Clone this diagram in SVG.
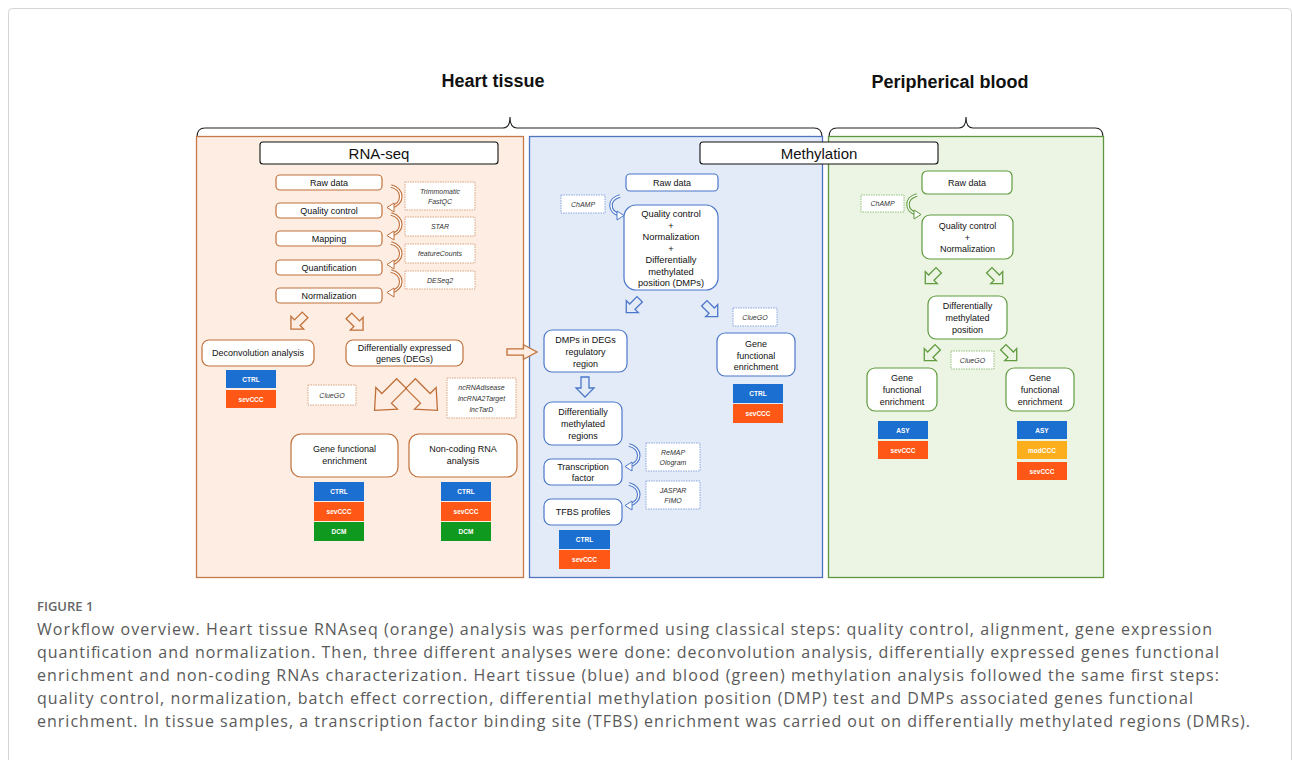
<svg xmlns="http://www.w3.org/2000/svg" width="1293" height="760" viewBox="0 0 1293 760">
<style>
.t{font-family:"Liberation Sans",Arial,sans-serif;font-size:9px;fill:#111;text-anchor:middle}
.tb{font-family:"Liberation Sans",Arial,sans-serif;font-size:9.3px;fill:#111;text-anchor:middle}
.ti{font-family:"Liberation Sans",Arial,sans-serif;font-size:7px;font-style:italic;fill:#333;text-anchor:middle}
.lab{font-family:"Liberation Sans",Arial,sans-serif;font-size:6.5px;font-weight:bold;fill:#fff;text-anchor:middle}
.hd{font-family:"Liberation Sans",Arial,sans-serif;font-size:18px;font-weight:bold;fill:#111;text-anchor:middle}
.bx{font-family:"Liberation Sans",Arial,sans-serif;font-size:15px;fill:#111;text-anchor:middle}
.cap{font-family:"Open Sans","Liberation Sans",sans-serif;font-size:16px;fill:#5a5a5a}
.on{fill:#fff;stroke:#c0703a;stroke-width:1.2}
.bn{fill:#fff;stroke:#4b77c9;stroke-width:1.2}
.gn{fill:#fff;stroke:#5f9b3f;stroke-width:1.2}
.ot{fill:#fff;stroke:#d9a482;stroke-width:1;stroke-dasharray:1.5 1}
.bt{fill:#fff;stroke:#8aa6dc;stroke-width:1;stroke-dasharray:1.5 1}
.gt{fill:#fff;stroke:#93c07c;stroke-width:1;stroke-dasharray:1.5 1}
.ctrl{fill:#1b6fd1}.sev{fill:#ff5716}.dcm{fill:#0f9a1f}.mod{fill:#fdae1c}
.brace{fill:none;stroke:#222;stroke-width:1.1}
.oc{fill:none;stroke:#c0703a;stroke-width:3.6}
.bc{fill:none;stroke:#4b77c9;stroke-width:3.6}
.gc{fill:none;stroke:#5f9b3f;stroke-width:3.6}
.ci{fill:none;stroke:#fff;stroke-width:1.4}
</style>
<defs>
<polygon id="ba" points="-4,-10 4,-10 4,1 9,1 0,10 -9,1 -4,1" vector-effect="non-scaling-stroke"/>
</defs>
<rect x="8.5" y="8.5" width="1283" height="800" rx="4" fill="#fff" stroke="#d4d4d4"/>

<text x="493" y="87" class="hd">Heart tissue</text>
<text x="950" y="88" class="hd">Peripherical blood</text>
<path class="brace" d="M197,137 Q197,128 205,128 L503,128 Q510,128 510,117 Q510,128 517,128 L814,128 Q822,128 822,137"/>
<path class="brace" d="M829,137 Q829,128 837,128 L959,128 Q966,128 966,117 Q966,128 973,128 L1095,128 Q1103,128 1103,137"/>

<rect x="196.5" y="136.5" width="327" height="441" fill="#fdede2" stroke="#c47a4a" stroke-width="1.3"/>
<rect x="529.5" y="136.5" width="293" height="441" fill="#e3ebf8" stroke="#4f75bf" stroke-width="1.3"/>
<rect x="828.5" y="136.5" width="275" height="441" fill="#ecf5e3" stroke="#5f9640" stroke-width="1.3"/>

<g id="rnaseq-title"><rect x="260" y="142" width="238" height="22" rx="3" fill="#fff" stroke="#111" stroke-width="1.1"/><text x="379" y="158.5" class="bx">RNA-seq</text></g>
<g id="methylation-title"><rect x="700" y="142" width="238" height="22" rx="3" fill="#fff" stroke="#111" stroke-width="1.1"/><text x="819" y="158.5" class="bx">Methylation</text></g>

<g id="connectors">
<path class="oc" d="M391,186 C404,189 404,204 391,207"/><path class="ci" d="M391,186 C404,189 404,204 391,207"/><polygon points="387,207.5 394,203 394,212" fill="#fff" stroke="#c0703a"/>
<path class="oc" d="M391,214 C404,217 404,232 391,235"/><path class="ci" d="M391,214 C404,217 404,232 391,235"/><polygon points="387,235.5 394,231 394,240" fill="#fff" stroke="#c0703a"/>
<path class="oc" d="M391,243 C404,246 404,261 391,264"/><path class="ci" d="M391,243 C404,246 404,261 391,264"/><polygon points="387,264.5 394,260 394,269" fill="#fff" stroke="#c0703a"/>
<path class="oc" d="M391,271 C404,274 404,289 391,292"/><path class="ci" d="M391,271 C404,274 404,289 391,292"/><polygon points="387,292.5 394,288 394,297" fill="#fff" stroke="#c0703a"/>

<use href="#ba" transform="translate(298,322) rotate(45)" fill="none" stroke="#c0703a" stroke-width="1.3"/>
<use href="#ba" transform="translate(356,323) rotate(-45)" fill="none" stroke="#c0703a" stroke-width="1.3"/>
<use href="#ba" transform="translate(388,397) rotate(45) scale(1.7,1.9)" fill="none" stroke="#c0703a" stroke-width="1.3"/>
<use href="#ba" transform="translate(424,397) rotate(-45) scale(1.7,1.9)" fill="none" stroke="#c0703a" stroke-width="1.3"/>
<use href="#ba" transform="translate(522,352) rotate(-90) scale(0.8,1.5)" fill="#fdede2" stroke="#c0703a" stroke-width="1.3"/>

<path class="bc" d="M620,196 C608,199 608,212 620,215"/><path class="ci" d="M620,196 C608,199 608,212 620,215"/><polygon points="624,215.5 617,211 617,220" fill="#fff" stroke="#4b77c9"/>
<use href="#ba" transform="translate(633,306) rotate(45) scale(0.95)" fill="none" stroke="#4b77c9" stroke-width="1.3"/>
<use href="#ba" transform="translate(711,310) rotate(-45) scale(0.95)" fill="none" stroke="#4b77c9" stroke-width="1.3"/>
<use href="#ba" transform="translate(585,387)" fill="none" stroke="#4b77c9" stroke-width="1.3"/>
<path class="bc" d="M629,445 C642,448 642,463 629,466"/><path class="ci" d="M629,445 C642,448 642,463 629,466"/><polygon points="625,466.5 632,462 632,471" fill="#fff" stroke="#4b77c9"/>
<path class="bc" d="M629,484 C642,487 642,502 629,505"/><path class="ci" d="M629,484 C642,487 642,502 629,505"/><polygon points="625,505.5 632,501 632,510" fill="#fff" stroke="#4b77c9"/>

<path class="gc" d="M917,195 C905,198 905,211 917,214"/><path class="ci" d="M917,195 C905,198 905,211 917,214"/><polygon points="921,214.5 914,210 914,219" fill="#fff" stroke="#5f9b3f"/>
<use href="#ba" transform="translate(932,277) rotate(45) scale(0.95)" fill="none" stroke="#5f9b3f" stroke-width="1.3"/>
<use href="#ba" transform="translate(996,277) rotate(-45) scale(0.95)" fill="none" stroke="#5f9b3f" stroke-width="1.3"/>
<use href="#ba" transform="translate(931,354) rotate(45) scale(0.95)" fill="none" stroke="#5f9b3f" stroke-width="1.3"/>
<use href="#ba" transform="translate(1010,354) rotate(-45) scale(0.95)" fill="none" stroke="#5f9b3f" stroke-width="1.3"/>
</g>

<g id="rna-raw"><rect x="276" y="175" width="106" height="15" rx="4" class="on"/><text x="329" y="185.7" class="t">Raw data</text></g>
<g id="rna-qc"><rect x="276" y="203" width="106" height="15" rx="4" class="on"/><text x="329" y="213.7" class="t">Quality control</text></g>
<g id="rna-map"><rect x="276" y="231" width="106" height="15" rx="4" class="on"/><text x="329" y="241.7" class="t">Mapping</text></g>
<g id="rna-quant"><rect x="276" y="260" width="106" height="15" rx="4" class="on"/><text x="329" y="270.7" class="t">Quantification</text></g>
<g id="rna-norm"><rect x="276" y="288" width="106" height="15" rx="4" class="on"/><text x="329" y="298.7" class="t">Normalization</text></g>
<g id="tool-trim"><rect x="405" y="182" width="70" height="28" class="ot"/><text x="440" y="193.5" class="ti">Trimmomatic</text><text x="440" y="204" class="ti">FastQC</text></g>
<g id="tool-star"><rect x="405" y="217" width="70" height="19" class="ot"/><text x="440" y="229" class="ti">STAR</text></g>
<g id="tool-fc"><rect x="405" y="244" width="70" height="19" class="ot"/><text x="440" y="256" class="ti">featureCounts</text></g>
<g id="tool-deseq"><rect x="405" y="271" width="70" height="18" class="ot"/><text x="440" y="282.5" class="ti">DESeq2</text></g>
<g id="rna-deconv"><rect x="202" y="340" width="112" height="26" rx="7" class="on"/><text x="258" y="356" class="t">Deconvolution  analysis</text></g>
<g id="rna-degs"><rect x="346" y="340" width="117" height="26" rx="7" class="on"/><text x="404.5" y="350.5" class="t">Differentially expressed</text><text x="404.5" y="361.5" class="t">genes (DEGs)</text></g>
<g id="rna-deconv-groups"><rect x="226" y="370" width="50" height="18" class="ctrl"/><text x="251" y="381.5" class="lab">CTRL</text><rect x="226" y="390" width="50" height="18" class="sev"/><text x="251" y="401.5" class="lab">sevCCC</text></g>
<g id="tool-cluego-rna"><rect x="308" y="385" width="48" height="20" class="ot"/><text x="332" y="397.5" class="ti">ClueGO</text></g>
<g id="tool-ncrna"><rect x="447" y="378" width="69" height="40" class="ot"/><text x="481.5" y="390" class="ti">ncRNAdisease</text><text x="481.5" y="401" class="ti">lncRNA2Target</text><text x="481.5" y="412" class="ti">lncTarD</text></g>
<g id="rna-gfe"><rect x="291" y="434" width="107" height="43" rx="10" class="on"/><text x="344.5" y="452" class="t">Gene functional</text><text x="344.5" y="464" class="t">enrichment</text></g>
<g id="rna-ncrna"><rect x="409" y="434" width="108" height="43" rx="10" class="on"/><text x="463" y="452" class="t">Non-coding RNA</text><text x="463" y="464" class="t">analysis</text></g>
<g id="rna-gfe-groups"><rect x="314" y="482" width="50" height="19" class="ctrl"/><text x="339" y="494" class="lab">CTRL</text><rect x="314" y="502" width="50" height="19" class="sev"/><text x="339" y="514" class="lab">sevCCC</text><rect x="314" y="522" width="50" height="19" class="dcm"/><text x="339" y="534" class="lab">DCM</text></g>
<g id="rna-ncrna-groups"><rect x="441" y="482" width="50" height="19" class="ctrl"/><text x="466" y="494" class="lab">CTRL</text><rect x="441" y="502" width="50" height="19" class="sev"/><text x="466" y="514" class="lab">sevCCC</text><rect x="441" y="522" width="50" height="19" class="dcm"/><text x="466" y="534" class="lab">DCM</text></g>

<g id="met-raw"><rect x="626" y="174" width="92" height="17" rx="4" class="bn"/><text x="672" y="185.7" class="t">Raw data</text></g>
<g id="tool-champ-t"><rect x="561" y="195" width="44" height="18" class="bt"/><text x="583" y="206.5" class="ti">ChAMP</text></g>
<g id="met-qc"><rect x="624" y="205" width="94" height="85" rx="12" class="bn"/><text x="671" y="217" class="tb">Quality control</text><text x="671" y="228.5" class="tb">+</text><text x="671" y="240" class="tb">Normalization</text><text x="671" y="251.5" class="tb">+</text><text x="671" y="263" class="tb">Differentially</text><text x="671" y="274.5" class="tb">methylated</text><text x="671" y="286" class="tb">position (DMPs)</text></g>
<g id="tool-cluego-t"><rect x="733" y="308" width="44" height="18" class="bt"/><text x="755" y="320" class="ti">ClueGO</text></g>
<g id="met-dmpdeg"><rect x="544" y="330" width="83" height="42" rx="8" class="bn"/><text x="585.5" y="343" class="t">DMPs in DEGs</text><text x="585.5" y="355" class="t">regulatory</text><text x="585.5" y="366.5" class="t">region</text></g>
<g id="met-gfe"><rect x="717" y="333" width="78" height="43" rx="8" class="bn"/><text x="756" y="347" class="t">Gene</text><text x="756" y="358.5" class="t">functional</text><text x="756" y="370" class="t">enrichment</text></g>
<g id="met-gfe-groups"><rect x="733" y="384" width="50" height="19" class="ctrl"/><text x="758" y="396" class="lab">CTRL</text><rect x="733" y="404" width="50" height="19" class="sev"/><text x="758" y="416" class="lab">sevCCC</text></g>
<g id="met-dmr"><rect x="544" y="402" width="78" height="43" rx="8" class="bn"/><text x="583" y="415" class="t">Differentially</text><text x="583" y="427" class="t">methylated</text><text x="583" y="438.5" class="t">regions</text></g>
<g id="met-tf"><rect x="544" y="459" width="78" height="26" rx="7" class="bn"/><text x="583" y="469.5" class="t">Transcription</text><text x="583" y="480.5" class="t">factor</text></g>
<g id="met-tfbs"><rect x="544" y="499" width="78" height="26" rx="7" class="bn"/><text x="583" y="515" class="t">TFBS profiles</text></g>
<g id="tool-remap"><rect x="646" y="443" width="54" height="28" class="bt"/><text x="673" y="454.5" class="ti">ReMAP</text><text x="673" y="464.5" class="ti">Ologram</text></g>
<g id="tool-jaspar"><rect x="646" y="481" width="54" height="28" class="bt"/><text x="673" y="492.5" class="ti">JASPAR</text><text x="673" y="503" class="ti">FIMO</text></g>
<g id="met-tfbs-groups"><rect x="559" y="530" width="51" height="19" class="ctrl"/><text x="584.5" y="542" class="lab">CTRL</text><rect x="559" y="550" width="51" height="19" class="sev"/><text x="584.5" y="562" class="lab">sevCCC</text></g>

<g id="bl-raw"><rect x="922" y="171" width="90" height="23" rx="5" class="gn"/><text x="967" y="185.5" class="t">Raw data</text></g>
<g id="tool-champ-b"><rect x="861" y="195" width="43" height="17" class="gt"/><text x="882.5" y="206" class="ti">ChAMP</text></g>
<g id="bl-qc"><rect x="922" y="215" width="91" height="44" rx="8" class="gn"/><text x="967.5" y="229" class="t">Quality control</text><text x="967.5" y="240.5" class="t">+</text><text x="967.5" y="252" class="t">Normalization</text></g>
<g id="bl-dmp"><rect x="928" y="296" width="79" height="43" rx="8" class="gn"/><text x="967.5" y="309" class="t">Differentially</text><text x="967.5" y="321" class="t">methylated</text><text x="967.5" y="332.5" class="t">position</text></g>
<g id="tool-cluego-b"><rect x="951" y="351" width="43" height="18" class="gt"/><text x="972.5" y="363" class="ti">ClueGO</text></g>
<g id="bl-gfe1"><rect x="867" y="368" width="70" height="43" rx="8" class="gn"/><text x="902" y="380.5" class="t">Gene</text><text x="902" y="392.5" class="t">functional</text><text x="902" y="404.5" class="t">enrichment</text></g>
<g id="bl-gfe2"><rect x="1006" y="368" width="68" height="43" rx="8" class="gn"/><text x="1040" y="380.5" class="t">Gene</text><text x="1040" y="392.5" class="t">functional</text><text x="1040" y="404.5" class="t">enrichment</text></g>
<g id="bl-gfe1-groups"><rect x="878" y="421" width="50" height="18" class="ctrl"/><text x="903" y="432.5" class="lab">ASY</text><rect x="878" y="441" width="50" height="18" class="sev"/><text x="903" y="452.5" class="lab">sevCCC</text></g>
<g id="bl-gfe2-groups"><rect x="1017" y="421" width="50" height="18" class="ctrl"/><text x="1042" y="432.5" class="lab">ASY</text><rect x="1017" y="441" width="50" height="18" class="mod"/><text x="1042" y="452.5" class="lab">modCCC</text><rect x="1017" y="462" width="50" height="18" class="sev"/><text x="1042" y="473.5" class="lab">sevCCC</text></g>

<g id="caption">
<text x="37" y="611" font-family="'Open Sans','Liberation Sans',sans-serif" font-size="13px" font-weight="600" fill="#666">FIGURE 1</text>
<text x="37" y="635" class="cap" textLength="1175" lengthAdjust="spacing">Workflow overview. Heart tissue RNAseq (orange) analysis was performed using classical steps: quality control, alignment, gene expression</text>
<text x="37" y="658" class="cap" textLength="1182" lengthAdjust="spacing">quantification and normalization. Then, three different analyses were done: deconvolution analysis, differentially expressed genes functional</text>
<text x="37" y="681" class="cap" textLength="1182" lengthAdjust="spacing">enrichment and non-coding RNAs characterization. Heart tissue (blue) and blood (green) methylation analysis followed the same first steps:</text>
<text x="37" y="704" class="cap" textLength="1156" lengthAdjust="spacing">quality control, normalization, batch effect correction, differential methylation position (DMP) test and DMPs associated genes functional</text>
<text x="37" y="727" class="cap" textLength="1213" lengthAdjust="spacing">enrichment. In tissue samples, a transcription factor binding site (TFBS) enrichment was carried out on differentially methylated regions (DMRs).</text>
</g>
</svg>
